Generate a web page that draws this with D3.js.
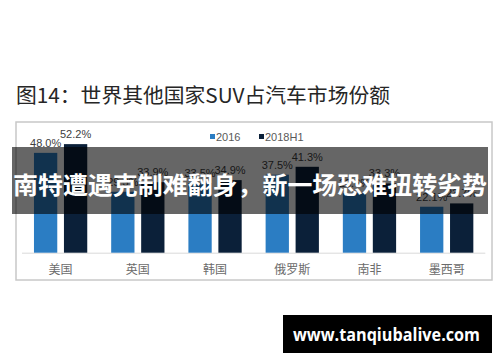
<!DOCTYPE html>
<html>
<head>
<meta charset="utf-8">
<script src="https://cdn.jsdelivr.net/npm/d3@7"></script>
<style>
  body { margin: 0; background: #fff; }
</style>
</head>
<body>
<div id="chart"></div>
<script>
// data (SUV share of car market, %)
var countries = ["美国", "英国", "韩国", "俄罗斯", "南非", "墨西哥"];
var seriesNames = ["2016", "2018H1"];
var share2016 = [48.0, 29.3, 33.5, 37.5, 28.6, 22.1];
var share2018H1 = [52.2, 33.9, 34.9, 41.3, 33.3, 23.7];
var colors = ["#2b7dc3", "#0b2039"];

var data = countries.map(function(c, i) {
  return {country: c, values: [share2016[i], share2018H1[i]]};
});

var width = 500, height = 362;

var svg = d3.select("#chart")
  .append("svg")
    .attr("width", width)
    .attr("height", height)
    .style("font-family", "'Liberation Sans', Arial, sans-serif");

// title
svg.append("text")
  .attr("x", 16)
  .attr("y", 103)
  .attr("font-family", "'Noto Sans CJK SC', sans-serif")
  .attr("font-size", 20)
  .attr("fill", "#262626")
  .attr("textLength", 374)
  .attr("lengthAdjust", "spacingAndGlyphs")
  .text("图14：世界其他国家SUV占汽车市场份额");

// chart frame
svg.append("rect")
  .attr("x", 16)
  .attr("y", 122)
  .attr("width", 476)
  .attr("height", 158)
  .attr("fill", "none")
  .attr("stroke", "#c8c8c8")
  .attr("stroke-width", 1.5);

// scales
var x0 = d3.scaleBand()
  .domain(countries)
  .range([22, 485.3])
  .paddingInner(0.31)
  .paddingOuter(0.155);

var x1 = d3.scaleBand()
  .domain(seriesNames)
  .range([0, x0.bandwidth()])
  .paddingInner(0.223);

var y = d3.scaleLinear()
  .domain([0, 60])
  .range([252.7, 127.9]);

// baseline + category labels
var xAxis = svg.append("g")
  .attr("transform", "translate(0," + y(0) + ")")
  .call(d3.axisBottom(x0).tickSize(0).tickPadding(13));
xAxis.select(".domain")
  .attr("stroke", "#d9d9d9")
  .attr("d", "M22,0.5H485.3");
xAxis.selectAll("text")
  .attr("font-family", "'Noto Sans CJK SC', sans-serif")
  .attr("font-size", 12)
  .attr("fill", "#6b6b6b");

// bars
var groups = svg.selectAll("g.group")
  .data(data)
  .enter()
  .append("g")
    .attr("class", "group")
    .attr("transform", function(d) { return "translate(" + x0(d.country) + ",0)"; });

groups.selectAll("rect")
  .data(function(d) { return d.values.map(function(v, i) { return {key: seriesNames[i], value: v, i: i}; }); })
  .enter()
  .append("rect")
    .attr("x", function(d) { return x1(d.key); })
    .attr("y", function(d) { return y(d.value); })
    .attr("width", x1.bandwidth())
    .attr("height", function(d) { return y(0) - y(d.value); })
    .attr("fill", function(d) { return colors[d.i]; });

// value labels
groups.selectAll("text.val")
  .data(function(d) { return d.values.map(function(v, i) { return {key: seriesNames[i], value: v}; }); })
  .enter()
  .append("text")
    .attr("class", "val")
    .attr("x", function(d) { return x1(d.key) + x1.bandwidth() / 2; })
    .attr("y", function(d) { return y(d.value) - 6; })
    .attr("text-anchor", "middle")
    .attr("font-size", 11)
    .attr("fill", "#404040")
    .text(function(d) { return d.value.toFixed(1) + "%"; });

// legend
var legend = svg.selectAll("g.legend")
  .data(seriesNames)
  .enter()
  .append("g")
    .attr("class", "legend")
    .attr("transform", function(d, i) { return "translate(" + [210, 259][i] + ",137)"; });
legend.append("rect")
  .attr("x", 0)
  .attr("y", -3)
  .attr("width", 5)
  .attr("height", 5)
  .attr("fill", function(d, i) { return colors[i]; });
legend.append("text")
  .attr("x", 6)
  .attr("y", 4)
  .attr("font-size", 11)
  .attr("fill", "#595959")
  .text(function(d) { return d; });

// headline banner on top of the chart
svg.append("rect")
  .attr("x", 12)
  .attr("y", 147)
  .attr("width", 476)
  .attr("height", 67)
  .attr("fill", "rgba(0,0,0,0.6)");
svg.append("text")
  .attr("x", 250)
  .attr("y", 194)
  .attr("text-anchor", "middle")
  .attr("font-family", "'Noto Sans CJK SC', sans-serif")
  .attr("font-weight", "bold")
  .attr("font-size", 24)
  .attr("fill", "#fff")
  .attr("textLength", 474)
  .attr("lengthAdjust", "spacingAndGlyphs")
  .text("南特遭遇克制难翻身，新一场恐难扭转劣势");

// watermark
svg.append("rect")
  .attr("x", 283)
  .attr("y", 315)
  .attr("width", 209)
  .attr("height", 38)
  .attr("fill", "#000");
svg.append("text")
  .attr("x", 386.5)
  .attr("y", 341)
  .attr("text-anchor", "middle")
  .attr("font-family", "'Open Sans', 'DejaVu Sans', sans-serif")
  .attr("font-weight", "bold")
  .attr("font-size", 17)
  .attr("fill", "#fff")
  .attr("textLength", 187)
  .attr("lengthAdjust", "spacingAndGlyphs")
  .text("www.tanqiubalive.com");
</script>
</body>
</html>
